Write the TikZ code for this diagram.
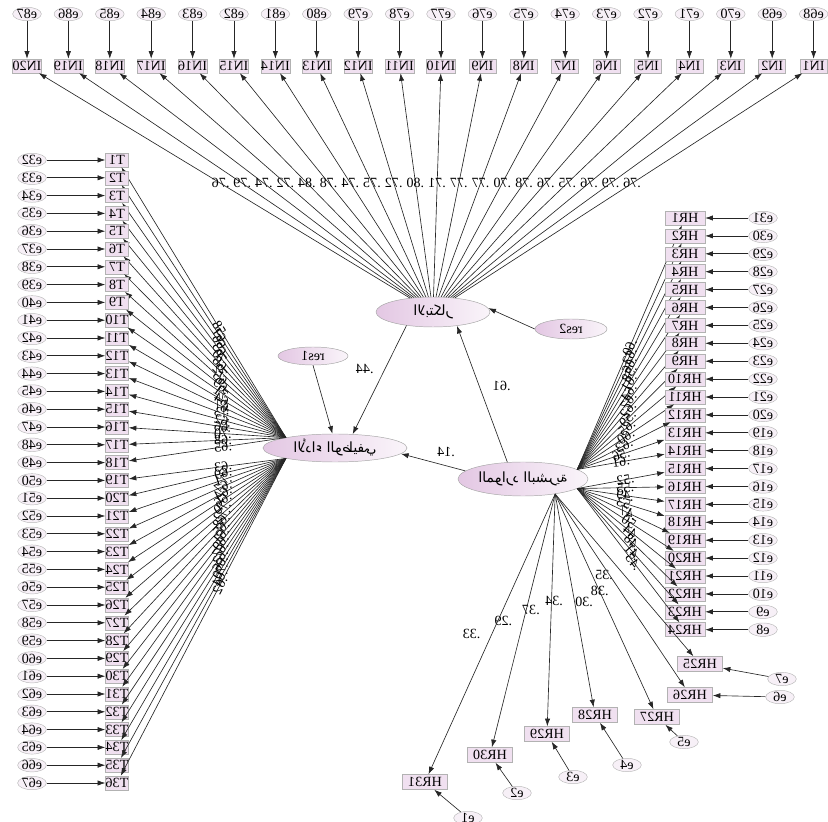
\documentclass[tikz,border=0pt]{standalone}
\usepackage{graphicx}
\usepackage{fontspec}
\setmainfont{Liberation Serif}
\newfontfamily\arabicfont[Script=Arabic]{DejaVu Sans}
\TeXXeTstate=1
\usetikzlibrary{shapes,arrows.meta,positioning,calc}

\begin{document}
\begin{tikzpicture}[x=0.03cm,y=-0.03cm,
        font=\fontsize{12}{13}\selectfont,
        latent/.style={ellipse,draw=gray!70,left color=violet!22,right color=violet!4,inner sep=0pt},
        item/.style={rectangle,draw=gray!60,fill=violet!12,inner sep=0pt,minimum height=0.42cm},
        errc/.style={ellipse,draw=gray!55,fill=violet!6,inner sep=0pt,minimum width=0.86cm,minimum height=0.38cm},
        coef/.style={inner sep=0.5pt},
        arw/.style={-{Latex[length=6.5pt,width=4.5pt]},draw=black!85,line width=0.55pt}]
    \useasboundingbox (0,0) rectangle (828,822);

    % latent variables
    \node[latent,minimum width=3.42cm,minimum height=0.9cm] (inno) at (433,312) {\reflectbox{\arabicfont\beginR الابتكار\endR}};
    \node[latent,minimum width=4.32cm,minimum height=0.84cm] (perf) at (335,448) {\reflectbox{\arabicfont\beginR الأداء الوظيفي\endR}};
    \node[latent,minimum width=3.9cm,minimum height=1.02cm] (hrm) at (523,479) {\reflectbox{\arabicfont\beginR الموارد البشرية\endR}};
    \node[latent,minimum width=2.1cm,minimum height=0.54cm] (res1) at (313,356) {\reflectbox{res1}};
    \node[latent,minimum width=2.16cm,minimum height=0.6cm] (res2) at (571,329) {\reflectbox{res2}};

    % structural paths
    \draw[arw] (res2.west) -- (inno.4);
    \draw[arw] (inno.207) -- (perf.38) node[coef,pos=0.4,left=9pt] {\reflectbox{.44}};
    \draw[arw] (res1.south) -- (perf.100);
    \draw[arw] (hrm.133) -- (inno.-30) node[coef,pos=0.56,right=11pt] {\reflectbox{.61}};
    \draw[arw] (hrm.172) -- (perf.-5) node[coef,pos=0.3,above=7pt] {\reflectbox{.14}};

    % top row
    \foreach \v [count=\j] in {.76,.79,.74,.72,.84,.78,.74,.75,.72,.80,.71,.77,.77,.70,.78,.76,.75,.76,.79,.76} {
        \pgfmathsetmacro\xx{27+(\j-1)*41.4}
        \pgfmathtruncatemacro\n{21-\j}
        \pgfmathtruncatemacro\m{88-\j}
        \node[errc] (e\m) at (\xx,14) {\reflectbox{e\m}};
        \node[item,minimum width=0.81cm] (in\n) at (\xx,66) {\reflectbox{IN\n}};
        \draw[arw] (e\m) -- (in\n);
        \draw[arw] (inno) -- (in\n) node[coef,pos=0.51] {\reflectbox{\v}};
    }

    % left column
    \foreach \v [count=\i] in {.58,.61,.66,.63,.70,.68,.72,.65,.69,.71,.64,.67,.73,.62,.66,.70,.68,.65,
                               .63,.69,.71,.67,.64,.66,.70,.72,.68,.65,.61,.69,.67,.63,.66,.70,.64,.62} {
        \pgfmathsetmacro\yy{160+(\i-1)*17.8}
        \pgfmathtruncatemacro\m{31+\i}
        \pgfmathtruncatemacro\ang{\i<19 ? 168 : 192}
        \node[errc] (e\m) at (32,\yy) {\reflectbox{e\m}};
        \node[item,minimum width=0.69cm] (t\i) at (117,\yy) {\reflectbox{T\i}};
        \draw[arw] (e\m) -- (t\i);
        \draw[arw] (perf.\ang) -- (t\i) node[coef,sloped,pos=0.4] {\reflectbox{\v}};
    }

    % right column
    \foreach \v [count=\k] in {.60,.63,.66,.58,.61,.64,.67,.62,.59,.65,.60,.63,.56,.61,
                               .52,.55,.49,.53,.47,.50,.44,.48,.41,.45} {
        \pgfmathsetmacro\yy{218+(\k-1)*17.9}
        \pgfmathtruncatemacro\m{32-\k}
        \pgfmathtruncatemacro\ang{\k<15 ? 10 : -10}
        \pgfmathsetmacro\ps{\k<15 ? 0.5 : 0.55}
        \node[errc] (e\m) at (763,\yy) {\reflectbox{e\m}};
        \node[item,minimum width=1.2cm] (hr\k) at (685,\yy) {\reflectbox{HR\k}};
        \draw[arw] (e\m) -- (hr\k);
        \draw[arw] (hrm.\ang) -- (hr\k) node[coef,sloped,pos=\ps] {\reflectbox{\v}};
    }

    % bottom items
    \foreach \k/\px/\py/\qx/\qy/\m/\v in {25/700/664/782/679/7/.35, 26/690/695/780/697/6/.38,
            27/657/717/684/742/5/.30, 28/595/715/627/765/4/.34, 29/547/734/573/777/3/.37,
            30/490/755/517/793/2/.29, 31/425/782/468/818/1/.33} {
        \node[errc] (e\m) at (\qx,\qy) {\reflectbox{e\m}};
        \node[item,minimum width=1.35cm,minimum height=0.45cm] (hr\k) at (\px,\py) {\reflectbox{HR\k}};
        \draw[arw] (e\m) -- (hr\k);
        \draw[arw] (hrm.-25) -- (hr\k) node[coef,pos=0.5,left=9pt] {\reflectbox{\v}};
    }
\end{tikzpicture}
\end{document}
